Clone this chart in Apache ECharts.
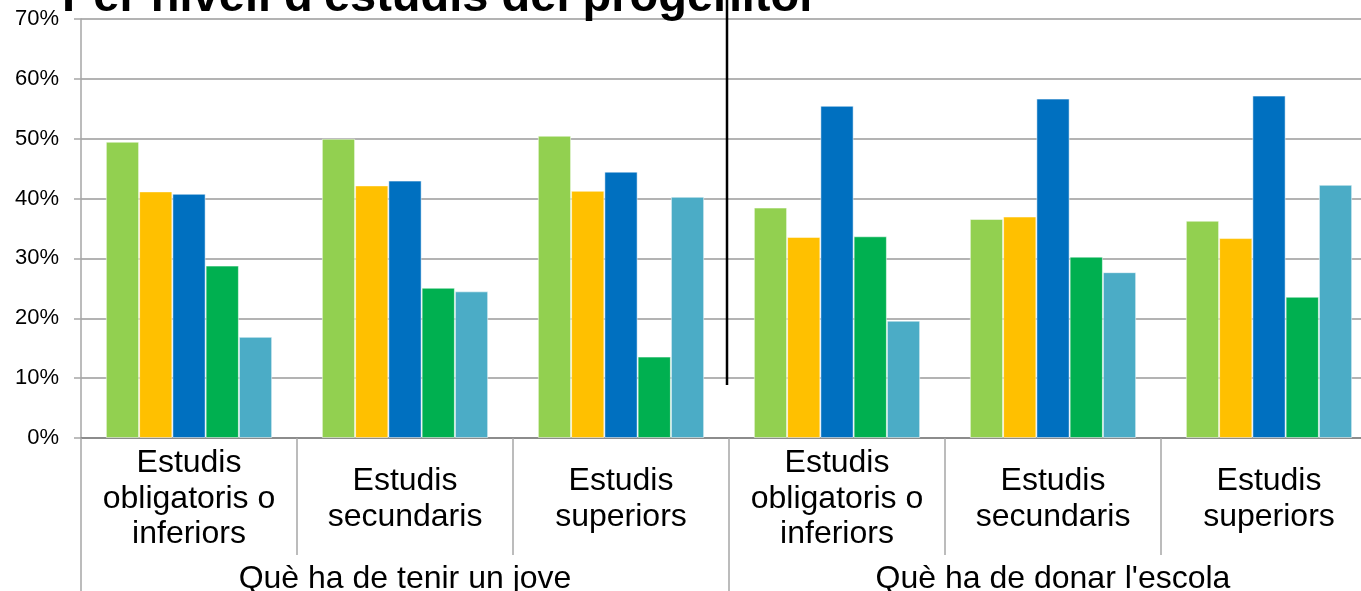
<!DOCTYPE html>
<html>
<head>
<meta charset="utf-8">
<title>Per nivell d'estudis del progenitor</title>
<script src="https://cdn.jsdelivr.net/npm/echarts@6/dist/echarts.min.js"></script>
<style>
  html, body { margin: 0; padding: 0; background: #fff; overflow: hidden; }
  #chart { width: 1361px; height: 591px; }
</style>
</head>
<body>
<div id="chart"></div>
<script>
// ==================== 数据 ====================

// 第一层分类（每组 5 根柱）
const categories = [
  'Estudis\nobligatoris o\ninferiors', 'Estudis\nsecundaris', 'Estudis\nsuperiors',
  'Estudis\nobligatoris o\ninferiors', 'Estudis\nsecundaris', 'Estudis\nsuperiors'
];

// 第二层分类
const groups = ['Què ha de tenir un jove', "Què ha de donar l'escola"];

// 各系列数值（%）
const serie1 = [49.5, 50.0, 50.5, 38.5, 36.6, 36.3];
const serie2 = [41.2, 42.2, 41.3, 33.6, 37.0, 33.4];
const serie3 = [40.8, 43.0, 44.5, 55.5, 56.7, 57.2];
const serie4 = [28.8, 25.1, 13.6, 33.7, 30.3, 23.6];
const serie5 = [16.9, 24.5, 40.3, 19.6, 27.7, 42.3];

const yTicks = [0, 10, 20, 30, 40, 50, 60, 70];

const colors = ['#92D050', '#FFC000', '#0070C0', '#00B050', '#4BACC6'];
const FONT = '"Liberation Sans", Arial, sans-serif';

// ==================== 图表 ====================

const chart = echarts.init(document.getElementById('chart'));

const seriesData = [serie1, serie2, serie3, serie4, serie5];

const option = {
  animation: false,
  backgroundColor: '#fff',
  title: {
    text: "Per nivell d'estudis del progenitor",
    left: 57,
    top: -30,
    textStyle: { fontFamily: FONT, fontSize: 47, fontWeight: 'bold', color: '#000' }
  },
  // la gràfica original queda tallada per la dreta
  grid: { left: 81, top: 19, width: 1296, height: 419, outerBoundsMode: 'none', containLabel: false },
  xAxis: [
    {
      type: 'category',
      data: categories,
      position: 'bottom',
      axisLine: { show: true, lineStyle: { color: '#8c8c8c', width: 2 } },
      axisTick: { show: true, interval: 0, length: 117, alignWithLabel: false, lineStyle: { color: '#a6a6a6', width: 1.5 } },
      axisLabel: {
        interval: 0,
        margin: 61,
        verticalAlign: 'middle',
        fontFamily: FONT,
        fontSize: 32,
        lineHeight: 35.5,
        color: '#000'
      }
    },
    {
      type: 'category',
      data: groups,
      position: 'bottom',
      offset: 0,
      axisLine: { show: false },
      axisTick: { show: true, interval: 0, length: 155, lineStyle: { color: '#a6a6a6', width: 1.5 } },
      axisLabel: {
        interval: 0,
        margin: 141,
        verticalAlign: 'middle',
        fontFamily: FONT,
        fontSize: 32,
        color: '#000'
      }
    }
  ],
  yAxis: {
    type: 'value',
    min: yTicks[0],
    max: yTicks[yTicks.length - 1],
    interval: 10,
    axisLine: { show: true, lineStyle: { color: '#a6a6a6', width: 1.5 } },
    axisTick: { show: true, length: 7, lineStyle: { color: '#a6a6a6', width: 1.5 } },
    splitLine: { show: true, lineStyle: { color: '#9a9a9a', width: 1.5 } },
    axisLabel: {
      margin: 22,
      fontFamily: FONT,
      fontSize: 22,
      color: '#000',
      formatter: '{value}%'
    }
  },
  series: seriesData.map((d, i) => ({
    type: 'bar',
    name: 'S' + (i + 1),
    xAxisIndex: 0,
    data: d,
    barGap: 0,
    barCategoryGap: '23%',
    itemStyle: { color: colors[i], borderColor: 'rgba(255,255,255,0.5)', borderWidth: 1 }
  })),
  graphic: [
    {
      type: 'line',
      shape: { x1: 727, y1: 0, x2: 727, y2: 385 },
      style: { stroke: '#000', lineWidth: 2.5 },
      z: 100
    }
  ]
};

chart.setOption(option);
</script>
</body>
</html>
